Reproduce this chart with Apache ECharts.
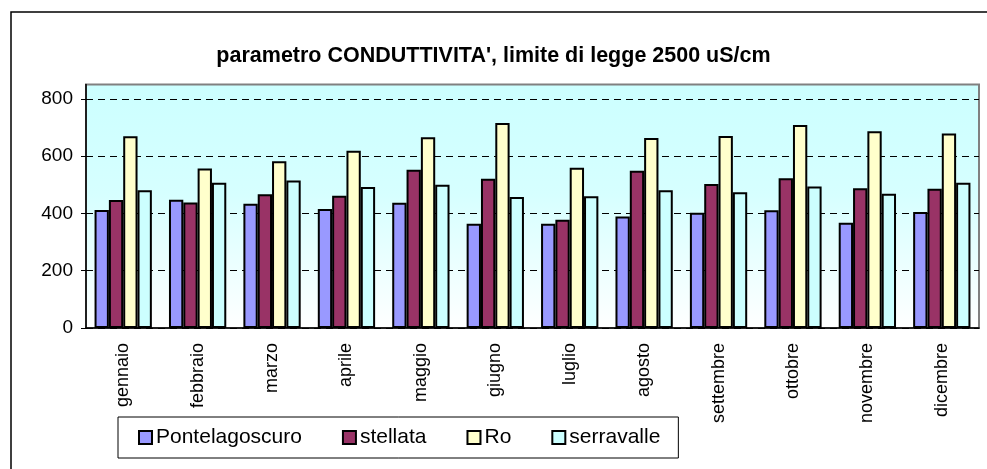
<!DOCTYPE html>
<html>
<head>
<meta charset="utf-8">
<script src="https://cdn.jsdelivr.net/npm/echarts@6/dist/echarts.min.js"></script>
<style>
  html, body { margin: 0; padding: 0; background: #fff; }
  #chart { width: 987px; height: 469px; }
</style>
</head>
<body>
<div id="chart"></div>
<script>
// mesi
const months = ['gennaio', 'febbraio', 'marzo', 'aprile', 'maggio', 'giugno',
  'luglio', 'agosto', 'settembre', 'ottobre', 'novembre', 'dicembre']
// conduttivita' per stazione (uS/cm)
const pontelagoscuro = [412, 448, 434, 415, 437, 364, 364, 389, 402, 411, 367, 405]
const stellata = [447, 438, 467, 462, 552, 521, 378, 549, 503, 523, 488, 486]
const ro = [669, 557, 582, 619, 666, 716, 559, 663, 670, 709, 687, 679]
const serravalle = [481, 507, 515, 492, 500, 457, 460, 481, 474, 494, 469, 507]

const seriesNames = ['Pontelagoscuro', 'stellata', 'Ro', 'serravalle']
const seriesData = [pontelagoscuro, stellata, ro, serravalle]
const seriesColors = ['#9999FF', '#993366', '#FFFFCC', '#CCFFFF']

const chart = echarts.init(document.getElementById('chart'))

const option = {
  animation: false,
  textStyle: { fontFamily: 'Liberation Sans, Arial, sans-serif' },
  // cornice esterna
  graphic: [{
    type: 'rect',
    shape: { x: 11, y: 12, width: 1000, height: 500 },
    style: { fill: 'none', stroke: '#000', lineWidth: 1.5 },
    silent: true
  }],
  title: {
    text: "parametro CONDUTTIVITA', limite di legge 2500 uS/cm",
    left: 'center',
    top: 40,
    textStyle: { fontSize: 21.5, fontWeight: 'bold', color: '#000' }
  },
  legend: {
    left: 118,
    top: 417,
    padding: [10, 18, 10, 20],
    itemGap: 40,
    itemWidth: 13,
    itemHeight: 13,
    icon: 'rect',
    borderColor: '#000',
    borderWidth: 1,
    data: seriesNames,
    textStyle: { fontSize: 21, color: '#000', padding: [0, 0, 0, -1] }
  },
  grid: {
    left: 86,
    right: 8,
    top: 84.5,
    bottom: 141,
    show: true,
    borderColor: '#808080',
    borderWidth: 2,
    backgroundColor: new echarts.graphic.LinearGradient(0, 0, 0, 1, [
      { offset: 0, color: '#CCFFFF' },
      { offset: 0.45, color: '#D6FFFF' },
      { offset: 1, color: '#FFFFFF' }
    ])
  },
  xAxis: {
    type: 'category',
    data: months,
    axisLine: { lineStyle: { color: '#000', width: 1.5 } },
    axisTick: { length: 5, lineStyle: { color: '#000' } },
    axisLabel: {
      rotate: 90,
      margin: 15,
      fontSize: 18,
      color: '#000'
    }
  },
  yAxis: {
    type: 'value',
    min: 0,
    max: 850,
    interval: 200,
    axisLine: { show: true, lineStyle: { color: '#000', width: 1.5 } },
    axisTick: { show: true, length: 5, lineStyle: { color: '#000' } },
    axisLabel: { fontSize: 19, color: '#000', margin: 13, showMaxLabel: false },
    splitLine: {
      lineStyle: { color: ['#000', '#000', '#000', '#000', '#000', 'rgba(0,0,0,0)'], type: [7, 5], width: 1 }
    }
  },
  series: seriesNames.map((name, i) => ({
    name: name,
    type: 'bar',
    data: seriesData[i],
    barGap: '0%',
    barCategoryGap: '23%',
    itemStyle: {
      color: seriesColors[i],
      borderColor: '#000',
      borderWidth: 2
    }
  }))
}

chart.setOption(option)
</script>
</body>
</html>
